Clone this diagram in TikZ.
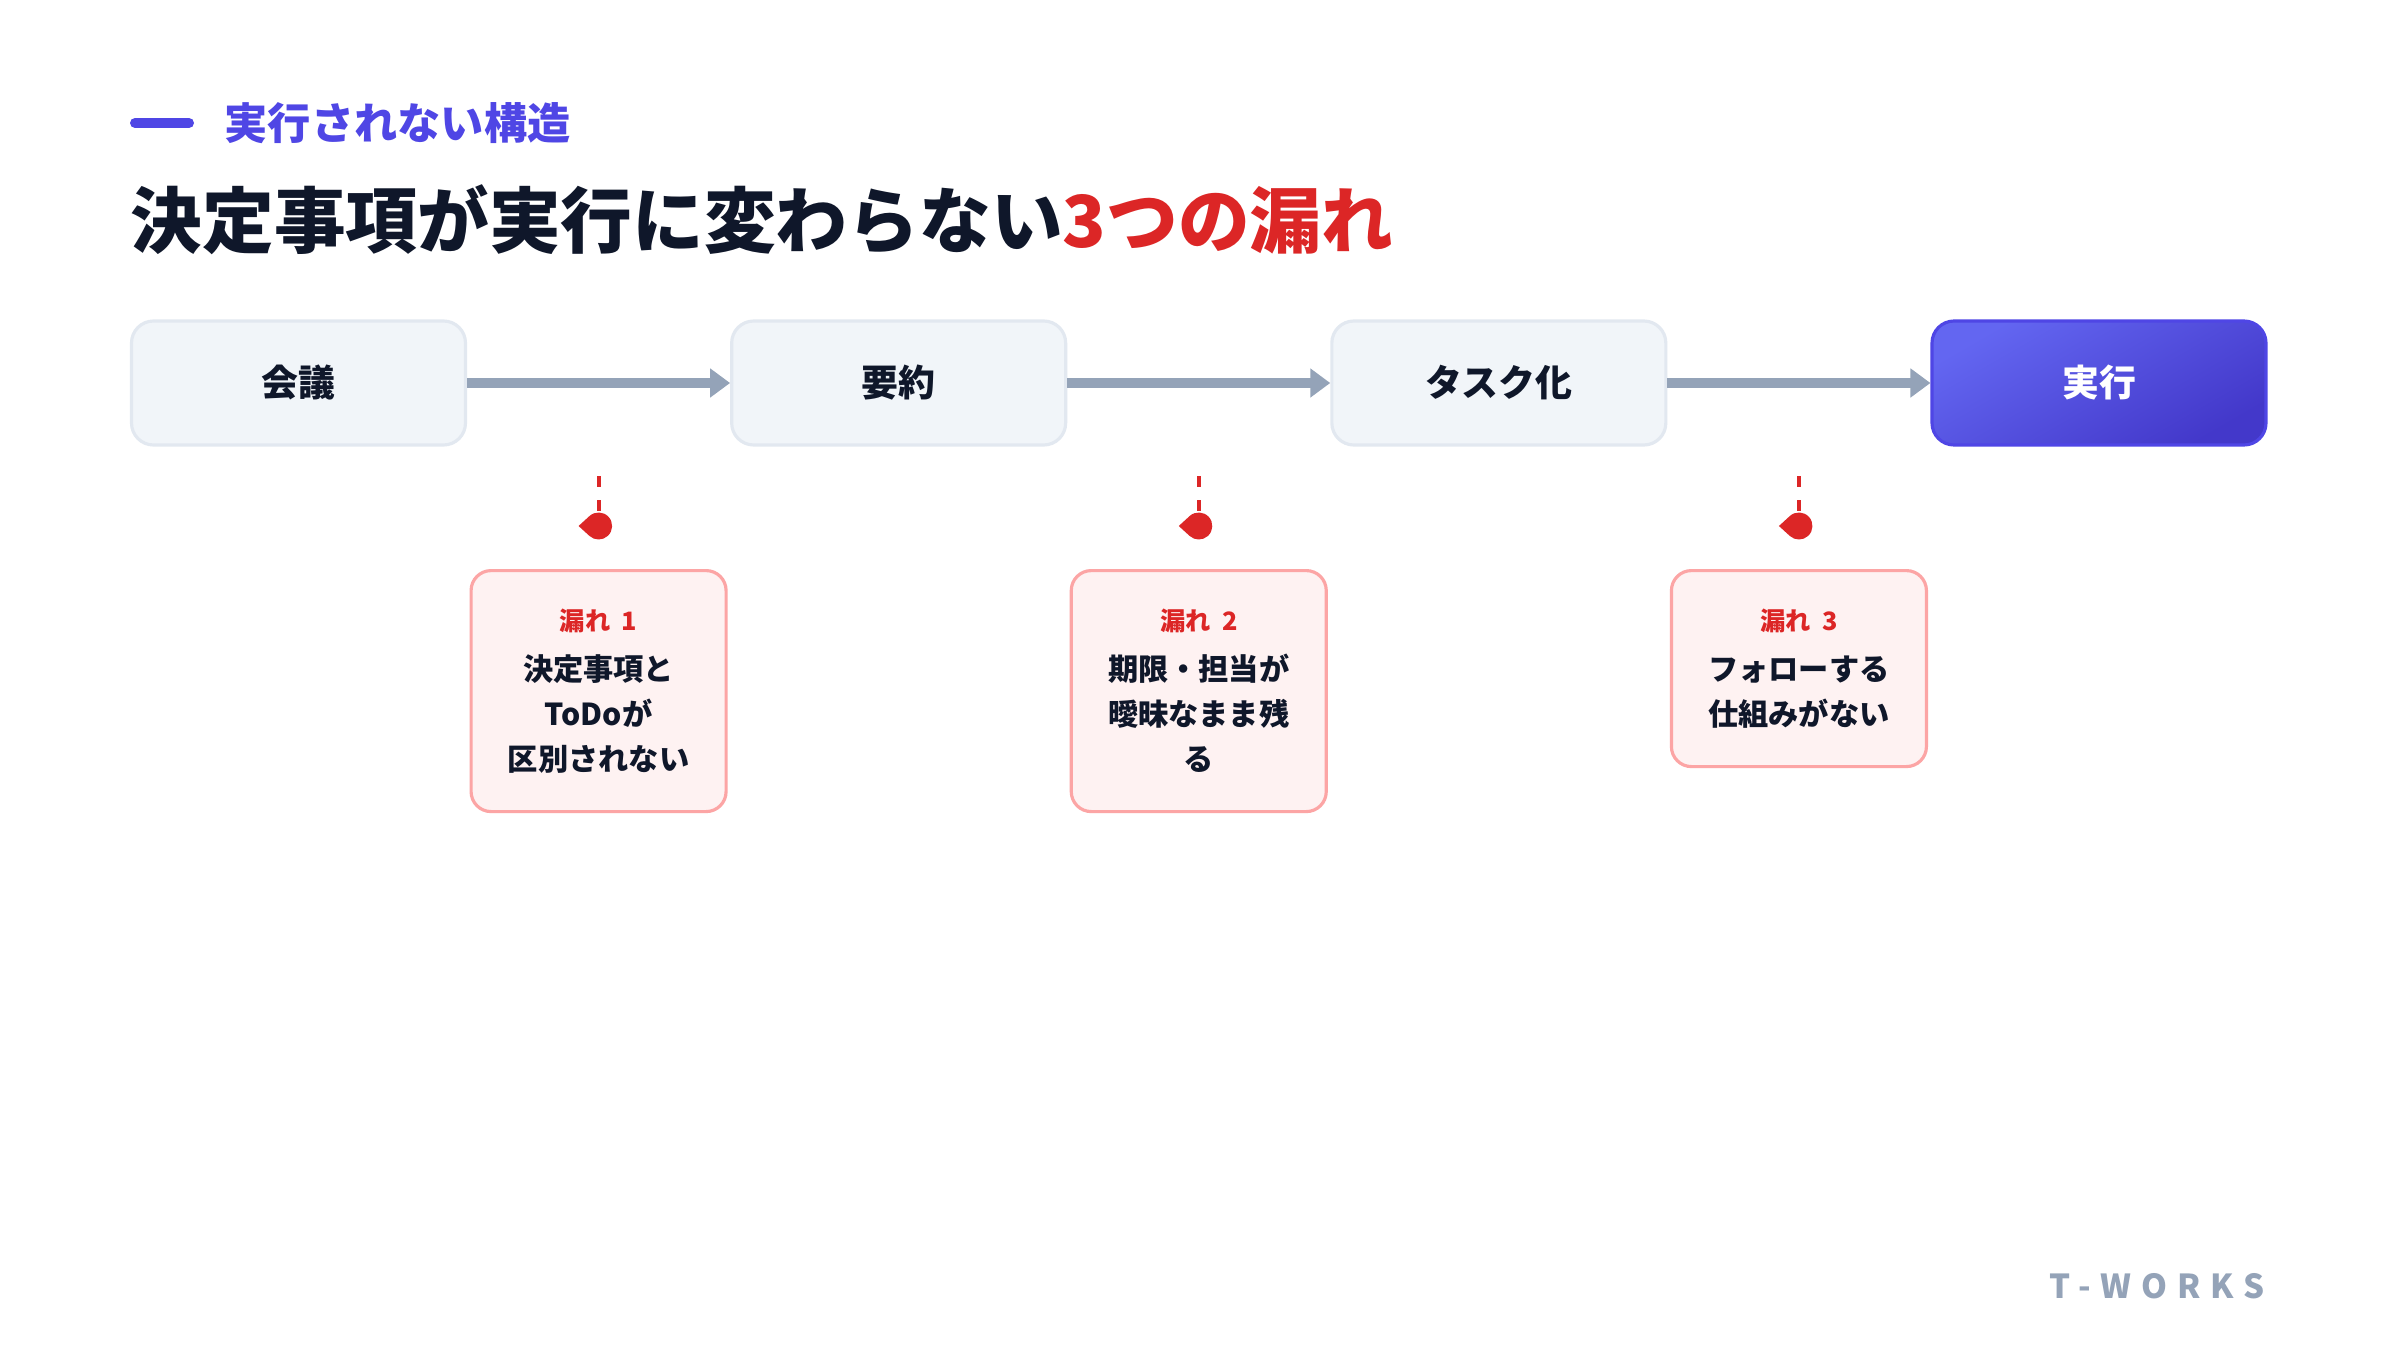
\documentclass[tikz,border=0pt]{standalone}
\usepackage{fontspec}
\setmainfont{Noto Sans CJK JP}
\newfontfamily\brandfont[LetterSpace=30]{Noto Sans CJK JP}
\usepackage{tikz}
\usetikzlibrary{positioning, arrows.meta, calc}

\definecolor{ink}{HTML}{0F172A}
\definecolor{stagefill}{HTML}{F1F5F9}
\definecolor{stageline}{HTML}{E2E8F0}
\definecolor{flowgray}{HTML}{94A3B8}
\definecolor{leakred}{HTML}{DC2626}
\definecolor{leakfill}{HTML}{FEF2F2}
\definecolor{leakline}{HTML}{FCA5A5}
\definecolor{indigo}{HTML}{4F46E5}
\definecolor{indigolight}{HTML}{6366F1}
\definecolor{indigodark}{HTML}{4338CA}

\begin{document}
\begin{tikzpicture}[
    x=1cm, y=1cm,
    every node/.style={text=ink, font=\bfseries},
    stage/.style={rectangle, draw=stageline, line width=0.9pt, rounded corners=0.22cm, fill=#1,
        minimum width=3.34cm, minimum height=1.24cm, font=\fontsize{10.5}{12}\selectfont\bfseries},
    stage/.default=stagefill,
    goal/.style={stage, draw=indigo, top color=indigolight, bottom color=indigodark, shading angle=30, text=white},
    leak/.style={rectangle, draw=leakline, line width=0.9pt, rounded corners=0.2cm, fill=leakfill,
        minimum width=2.55cm, align=center, inner ysep=2pt, font=\fontsize{8.6}{12.8}\selectfont\bfseries},
    flow/.style={-{Triangle[length=0.2cm, width=0.28cm]}, line width=0.1cm, draw=flowgray},
    tapline/.style={draw=leakred, line width=0.04cm, dash pattern=on 0.11cm off 0.13cm},
]
    \useasboundingbox[fill=white] (0,0) rectangle (24,13.5);

    % --- Heading ---
    \draw[indigo, line width=0.1cm, line cap=round] (1.35,12.27) -- (1.89,12.27);
    \node[anchor=west, inner sep=0, text=indigo, font=\fontsize{12.3}{14}\selectfont\bfseries] (kicker) at (2.24,12.27)
        {実行されない構造};
    \node[anchor=west, inner sep=0, font=\fontsize{20.4}{24}\selectfont\bfseries] (title) at (1.30,11.30)
        {決定事項が実行に変わらない\textcolor{leakred}{3つの漏れ}};

    % --- Flow of stages ---
    \node[stage] (meet) at (2.985,9.67) {会議};
    \node[stage, right=2.63cm of meet] (summary) {要約};
    \node[stage, right=2.63cm of summary] (tasks) {タスク化};
    \node[goal, right=2.63cm of tasks] (exec) {実行};

    \draw[flow] (meet.east) -- (summary.west);
    \draw[flow] (summary.east) -- (tasks.west);
    \draw[flow] (tasks.east) -- (exec.west);

    % --- Leak markers: dashed tap + drop under each arrow ---
    \coordinate (tap1) at ($(meet.east)!0.5!(summary.west) + (0,-0.93)$);
    \coordinate (tap2) at ($(summary.east)!0.5!(tasks.west) + (0,-0.93)$);
    \coordinate (tap3) at ($(tasks.east)!0.5!(exec.west) + (0,-0.93)$);
    \coordinate (drop1) at ($(tap1) + (0,-0.5)$);
    \coordinate (drop2) at ($(tap2) + (0,-0.5)$);
    \coordinate (drop3) at ($(tap3) + (0,-0.5)$);

    \draw[tapline] (tap1) -- ($(drop1) + (0,0.135)$);
    \draw[tapline] (tap2) -- ($(drop2) + (0,0.135)$);
    \draw[tapline] (tap3) -- ($(drop3) + (0,0.135)$);
    \fill[leakred] (drop1) ++(-0.2,0) -- ++(0.109,0.0996) arc[start angle=132.5, end angle=-132.5, radius=0.135] -- cycle;
    \fill[leakred] (drop2) ++(-0.2,0) -- ++(0.109,0.0996) arc[start angle=132.5, end angle=-132.5, radius=0.135] -- cycle;
    \fill[leakred] (drop3) ++(-0.2,0) -- ++(0.109,0.0996) arc[start angle=132.5, end angle=-132.5, radius=0.135] -- cycle;

    % --- Leak cards ---
    \node[leak, minimum height=2.41cm, below=0.93cm of tap1] (leak1)
        {{\fontsize{7.2}{8}\selectfont\color{leakred}漏れ\hspace{0.45em}1}\\[1.4pt]決定事項と\\ToDoが\\区別されない};
    \node[leak, minimum height=2.41cm, below=0.93cm of tap2] (leak2)
        {{\fontsize{7.2}{8}\selectfont\color{leakred}漏れ\hspace{0.45em}2}\\[1.4pt]期限・担当が\\曖昧なまま残\\る};
    \node[leak, minimum height=1.96cm, below=0.93cm of tap3] (leak3)
        {{\fontsize{7.2}{8}\selectfont\color{leakred}漏れ\hspace{0.45em}3}\\[1.4pt]フォローする\\仕組みがない};

    % --- Footer ---
    \node[anchor=east, inner sep=0, text=flowgray, font=\brandfont\fontsize{9.4}{11}\selectfont\bfseries] (brand) at (22.65,0.64)
        {T-WORKS};
\end{tikzpicture}
\end{document}
